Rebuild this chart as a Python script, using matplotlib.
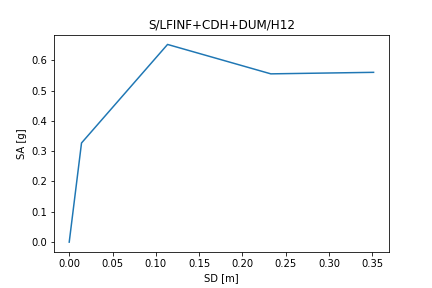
import matplotlib
matplotlib.use("Agg")
import matplotlib.pyplot as plt

sd = [0.0, 0.0142, 0.1135, 0.2327, 0.3513]
sa = [0.0, 0.327, 0.652, 0.555, 0.560]

fig, ax = plt.subplots(figsize=(6, 4), dpi=72)
fig.subplots_adjust(left=0.125, right=0.9, bottom=0.125, top=0.88)
ax.plot(sd, sa)
ax.set_title("S/LFINF+CDH+DUM/H12")
ax.set_xlabel("SD [m]")
ax.set_ylabel("SA [g]")
fig.savefig("out.png", dpi=72)
